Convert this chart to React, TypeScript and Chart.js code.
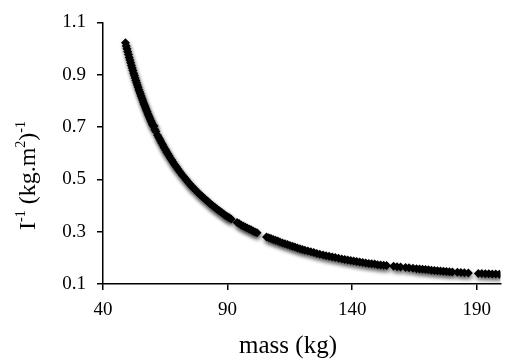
import { useEffect, useRef } from "react";
import { Chart, registerables } from "chart.js";

Chart.register(...registerables);

const massKg = [
  49.0, 49.3, 49.6, 49.9, 50.2, 50.5, 50.8, 51.1, 51.4, 51.7, 52.0, 52.3, 52.6, 52.9, 53.2, 53.5,
  53.8, 54.1, 54.4, 54.7, 55.0, 55.3, 55.6, 55.9, 56.2, 56.5, 56.8, 57.1, 57.4, 57.7, 58.0, 58.3,
  58.6, 58.9, 59.2, 59.5, 59.8, 60.1, 60.5, 60.8, 61.2, 61.9, 62.3, 62.7, 63.1, 63.6, 64.0, 64.4,
  64.8, 65.2, 65.6, 66.0, 66.5, 67.0, 67.5, 68.0, 68.5, 69.0, 69.5, 70.0, 70.6, 71.2, 71.8, 72.4,
  73.0, 73.6, 74.2, 74.8, 75.4, 76.0, 76.7, 77.4, 78.1, 78.8, 79.5, 80.2, 80.9, 81.6, 82.3, 83.0,
  83.7, 84.4, 85.1, 85.8, 86.5, 87.2, 87.9, 88.6, 89.3, 90.0, 90.7, 91.4, 93.8, 94.6, 95.4, 96.2,
  97.0, 97.8, 98.6, 99.4, 100.2, 101.0, 101.8, 105.6, 106.5, 107.4, 108.3, 109.2, 110.1, 111.0,
  112.0, 113.0, 114.0, 115.0, 116.0, 117.0, 118.0, 119.0, 120.0, 121.0, 122.2, 123.4, 124.6, 125.8,
  127.0, 128.3, 129.5, 130.7, 132.0, 133.2, 134.5, 135.8, 137.0, 138.2, 139.4, 140.6, 141.8, 143.0,
  144.2, 145.4, 146.6, 147.8, 149.0, 150.2, 151.4, 152.6, 153.8, 156.6, 158.0, 159.4, 161.4, 162.8,
  164.4, 165.8, 167.0, 168.2, 169.4, 170.6, 171.8, 173.0, 174.2, 175.4, 176.6, 177.8, 179.0, 180.2,
  182.2, 183.6, 185.0, 186.6, 190.6, 192.0, 193.4, 194.8, 196.2, 197.6, 199.0,
];

const inverseInertia = [
  1.022, 1.010, 0.999, 0.988, 0.977, 0.966, 0.956, 0.946, 0.935, 0.926, 0.916, 0.906, 0.897, 0.887, 0.878, 0.869,
  0.861, 0.852, 0.843, 0.835, 0.827, 0.819, 0.811, 0.803, 0.795, 0.787, 0.780, 0.773, 0.765, 0.758, 0.751, 0.744,
  0.737, 0.731, 0.724, 0.718, 0.711, 0.705, 0.704, 0.691, 0.683, 0.669, 0.661, 0.654, 0.647, 0.638, 0.631, 0.624,
  0.617, 0.611, 0.604, 0.598, 0.590, 0.582, 0.575, 0.567, 0.560, 0.553, 0.547, 0.540, 0.532, 0.524, 0.517, 0.510,
  0.503, 0.496, 0.489, 0.482, 0.476, 0.470, 0.463, 0.456, 0.449, 0.443, 0.437, 0.431, 0.425, 0.419, 0.413, 0.407,
  0.402, 0.396, 0.391, 0.386, 0.381, 0.376, 0.371, 0.366, 0.361, 0.357, 0.353, 0.348, 0.335, 0.331, 0.326, 0.322,
  0.318, 0.314, 0.310, 0.307, 0.303, 0.299, 0.296, 0.280, 0.277, 0.274, 0.270, 0.267, 0.264, 0.261,
  0.257, 0.254, 0.251, 0.247, 0.244, 0.241, 0.238, 0.235, 0.232, 0.229, 0.226, 0.223, 0.220, 0.217,
  0.214, 0.211, 0.208, 0.206, 0.203, 0.201, 0.198, 0.196, 0.194, 0.192, 0.190, 0.188, 0.186, 0.184,
  0.182, 0.180, 0.178, 0.177, 0.176, 0.174, 0.173, 0.172, 0.171, 0.168, 0.166, 0.165, 0.163, 0.162,
  0.160, 0.158, 0.157, 0.156, 0.155, 0.154, 0.153, 0.152, 0.151, 0.150, 0.149, 0.148, 0.147, 0.146,
  0.145, 0.144, 0.143, 0.142, 0.140, 0.140, 0.139, 0.139, 0.138, 0.138, 0.137,
];

const xTicks = [40, 90, 140, 190];
const yTicks = [0.1, 0.3, 0.5, 0.7, 0.9, 1.1];
const xTitle = "mass (kg)";
const yTitleParts = [
  { t: "I", sup: false },
  { t: "-1", sup: true },
  { t: " (kg.m", sup: false },
  { t: "2", sup: true },
  { t: ")", sup: false },
  { t: "-1", sup: true },
];

const SERIF = '"Liberation Serif", "Times New Roman", "DejaVu Serif", serif';

const shadowPlugin = {
  id: "markerShadow",
  beforeDatasetsDraw(chart: any) {
    const ctx = chart.ctx;
    ctx.save();
    ctx.shadowColor = "rgba(0,0,0,0.45)";
    ctx.shadowBlur = 4;
    ctx.shadowOffsetX = 1;
    ctx.shadowOffsetY = 3;
  },
  afterDatasetsDraw(chart: any) {
    chart.ctx.restore();
  },
};

const titlesPlugin = {
  id: "axisTitles",
  afterDraw(chart: any) {
    const ctx = chart.ctx;
    ctx.save();
    ctx.fillStyle = "#000";
    ctx.textBaseline = "alphabetic";
    ctx.font = `25px ${SERIF}`;
    ctx.textAlign = "center";
    ctx.fillText(xTitle, 288, 353);
    const base = 24;
    const small = 14;
    ctx.textAlign = "left";
    let total = 0;
    const widths = yTitleParts.map((p) => {
      ctx.font = `${p.sup ? small : base}px ${SERIF}`;
      const w = ctx.measureText(p.t).width;
      total += w;
      return w;
    });
    ctx.translate(35, 175.5);
    ctx.rotate(-Math.PI / 2);
    let x = -total / 2;
    yTitleParts.forEach((p, i) => {
      ctx.font = `${p.sup ? small : base}px ${SERIF}`;
      ctx.fillText(p.t, x, p.sup ? -base * 0.4 : 0);
      x += widths[i];
    });
    ctx.restore();
  },
};

export default function App() {
  const canvasRef = useRef<HTMLCanvasElement | null>(null);

  useEffect(() => {
    if (!canvasRef.current) return;
    const points = massKg.map((m, i) => ({ x: m, y: inverseInertia[i] }));
    const chart = new Chart(canvasRef.current, {
      type: "scatter",
      data: {
        datasets: [
          {
            data: points,
            pointStyle: "rectRot",
            pointRadius: 4.5,
            pointBackgroundColor: "#000",
            pointBorderColor: "#000",
            pointBorderWidth: 0,
          },
        ],
      },
      options: {
        animation: false,
        responsive: false,
        devicePixelRatio: 1,
        layout: { padding: { top: 16, right: 0, left: 0, bottom: 0 } },
        plugins: {
          legend: { display: false },
          tooltip: { enabled: false },
        },
        scales: {
          x: {
            type: "linear",
            min: 40,
            max: 199.5,
            afterBuildTicks: (scale: any) => {
              scale.ticks = xTicks.map((v) => ({ value: v }));
            },
            afterFit: (scale: any) => {
              scale.height = 76;
            },
            border: { display: true, color: "#000", width: 1.5 },
            grid: {
              display: true,
              drawOnChartArea: false,
              drawTicks: true,
              tickLength: 6,
              color: "#000",
              lineWidth: 1.5,
            },
            ticks: {
              color: "#000",
              padding: 9,
              font: { family: SERIF, size: 19 },
              callback: (v: any) => String(v),
              maxRotation: 0,
            },
          },
          y: {
            type: "linear",
            min: 0.1,
            max: 1.1,
            afterBuildTicks: (scale: any) => {
              scale.ticks = yTicks.map((v) => ({ value: v }));
            },
            afterFit: (scale: any) => {
              scale.width = 103;
            },
            border: { display: true, color: "#000", width: 1.5 },
            grid: {
              display: true,
              drawOnChartArea: false,
              drawTicks: true,
              tickLength: 6,
              color: "#000",
              lineWidth: 1.5,
            },
            ticks: {
              color: "#000",
              padding: 11,
              font: { family: SERIF, size: 19 },
              callback: (v: any) => String(v),
            },
          },
        },
      },
      plugins: [shadowPlugin, titlesPlugin],
    });
    return () => chart.destroy();
  }, []);

  return (
    <div style={{ position: "absolute", left: 0, top: 0, width: 505, height: 360, background: "#fff" }}>
      <canvas ref={canvasRef} width={505} height={360} />
    </div>
  );
}
